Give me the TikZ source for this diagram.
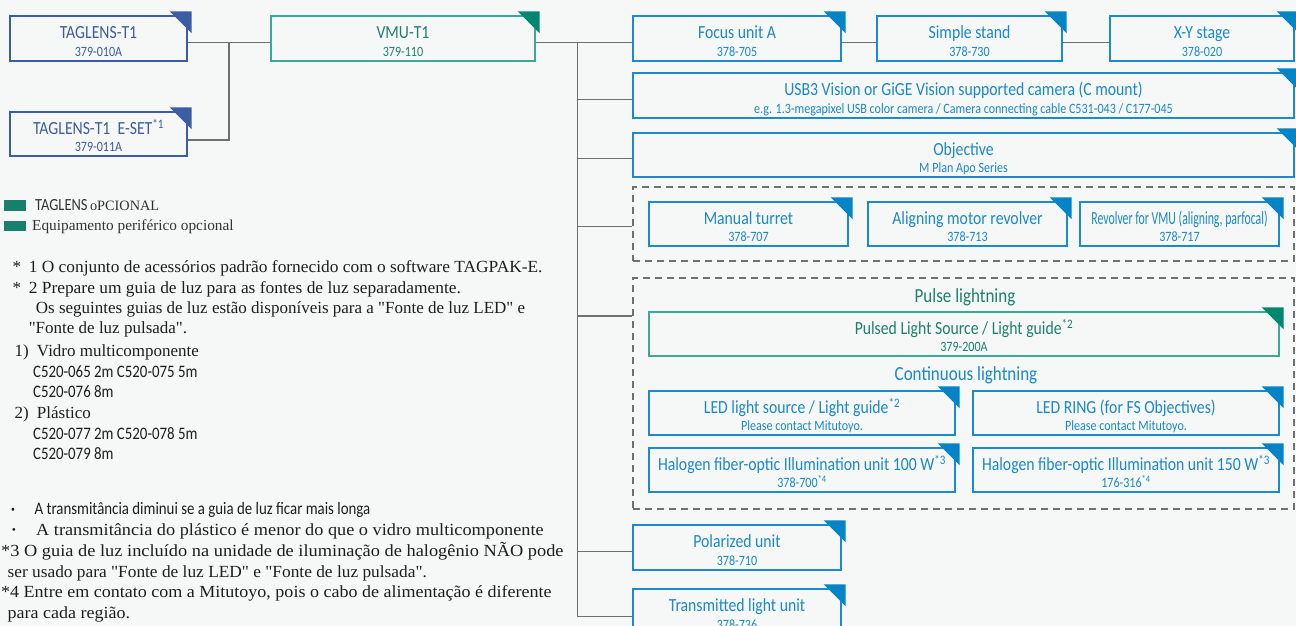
\documentclass[tikz,border=0pt]{standalone}
\usepackage{fontspec}
\setmainfont{Liberation Serif}[Ligatures=TeXOff]
\newfontfamily\cond[FakeStretch=0.85]{Carlito}
\usetikzlibrary{calc}
\definecolor{bgc}{HTML}{F6F8F8}
\definecolor{dblue}{HTML}{3C5DA3}
\definecolor{dbluetxt}{HTML}{3E5C9E}
\definecolor{gtri}{HTML}{00886F}
\definecolor{gborder}{HTML}{3AAA94}
\definecolor{gtxt}{HTML}{1E806B}
\definecolor{bborder}{HTML}{1C8BCC}
\definecolor{btxt}{HTML}{1A88C9}
\definecolor{btri}{HTML}{0284C6}
\definecolor{linec}{HTML}{6F6F6F}
\definecolor{dashc}{HTML}{707070}
\definecolor{legc}{HTML}{17806A}
\definecolor{notec}{HTML}{1E1E1E}
\newcommand\tfont{\cond\fontsize{18.5}{17.3}\selectfont}
\newcommand\sfont{\cond\fontsize{14.2}{17.3}\selectfont}
\newcommand\unittext[2]{\rule{0pt}{21pt}{\tfont #1}\\\rule[-3pt]{0pt}{3pt}#2}
\newcommand\cornertri[2]{\fill[#2] ($(#1.north east)+(4,-4)$) -- ++(-22,0) -- ++(22,22) -- cycle;}
\newcommand\serifnote{\fontsize{17}{20.5}\selectfont}
\newcommand\sansnote{\cond\fontsize{17.5}{20.5}\selectfont}
\newcommand\sx[2]{\scalebox{#1}[1]{#2}}
\tikzset{
  box/.style={draw, line width=1.4pt, inner sep=0pt, align=center, font=\sfont},
  bluebox/.style={box, draw=bborder, text=btxt},
  greenbox/.style={box, draw=gborder, text=gtxt},
  navybox/.style={box, draw=dblue, text=dbluetxt},
  link/.style={draw=linec, line width=1.4pt},
  group/.style={draw=dashc, line width=1.2pt, dash pattern=on 7pt off 5pt, inner sep=0pt},
  note/.style={anchor=base west, inner sep=0pt, text=notec},
  header/.style={inner sep=0pt, font=\cond\fontsize{20}{20}\selectfont},
}
\begin{document}
\begin{tikzpicture}[x=1pt,y=-1pt]
\useasboundingbox (0,0) rectangle (1296,626);
\fill[bgc] (0,0) rectangle (1296,626);

% top-left chain
\node[navybox, minimum width=177pt, minimum height=45pt] (tag1) at (98.5,38.5) {\unittext{TAGLENS-T1}{379-010A}};
\node[navybox, minimum width=177pt, minimum height=44pt] (tag2) at (98.5,134) {\unittext{TAGLENS-T1\ \ E-SET\textsuperscript{*1}}{379-011A}};
\node[greenbox, minimum width=264pt, minimum height=45pt] (vmu) at (403,38.5) {\unittext{VMU-T1}{379-110}};

\node[bluebox, minimum width=208pt, minimum height=45pt] (focus) at (737,38.5) {\unittext{Focus unit A}{378-705}};
\node[bluebox, minimum width=185pt, minimum height=45pt] (stand) at (969.5,38.5) {\unittext{Simple stand}{378-730}};
\node[bluebox, minimum width=184pt, minimum height=45pt] (xy) at (1202,38.5) {\unittext{X-Y stage}{378-020}};
\node[bluebox, minimum width=661pt, minimum height=45pt] (usb) at (963.5,95.5) {\unittext{USB3 Vision or GiGE Vision supported camera (C mount)}{e.g. 1.3-megapixel USB color camera / Camera connecting cable C531-043 / C177-045}};
\node[bluebox, minimum width=661pt, minimum height=44pt] (obj) at (963.5,155) {\unittext{Objective}{M Plan Apo Series}};

% revolver group
\node[group, minimum width=661pt, minimum height=74pt] (grp1) at (963.5,224) {};
\node[bluebox, minimum width=199pt, minimum height=44pt] (manual) at (748.5,224) {\unittext{Manual turret}{378-707}};
\node[bluebox, minimum width=199pt, minimum height=44pt] (align) at (967.5,224) {\unittext{Aligning motor revolver}{378-713}};
\node[bluebox, minimum width=199pt, minimum height=44pt] (revolver) at (1179.5,224) {\unittext{\sx{0.75}{Revolver for VMU (aligning, parfocal)}}{378-717}};

% lighting group
\node[group, minimum width=661pt, minimum height=231pt] (grp2) at (963.5,393.5) {};
\node[header, text=gtxt] (pulselbl) at (965,297) {Pulse lightning};
\node[greenbox, minimum width=630pt, minimum height=44pt] (pulsed) at (964,334) {\unittext{Pulsed Light Source / Light guide\textsuperscript{*2}}{379-200A}};
\node[header, text=btxt] (contlbl) at (966,375) {Continuous lightning};
\node[bluebox, minimum width=306pt, minimum height=44pt] (led) at (802,413) {\unittext{LED light source / Light guide\textsuperscript{*2}}{Please contact Mitutoyo.}};
\node[bluebox, minimum width=306pt, minimum height=44pt] (ring) at (1126,413) {\unittext{LED RING (for FS Objectives)}{Please contact Mitutoyo.}};
\node[bluebox, minimum width=306pt, minimum height=44pt] (hal100) at (802,470) {\unittext{Halogen fiber-optic Illumination unit 100 W\textsuperscript{*3}}{378-700\textsuperscript{*4}}};
\node[bluebox, minimum width=306pt, minimum height=44pt] (hal150) at (1126,470) {\unittext{Halogen fiber-optic Illumination unit 150 W\textsuperscript{*3}}{176-316\textsuperscript{*4}}};

\node[bluebox, minimum width=208pt, minimum height=45pt] (polar) at (737,547.5) {\unittext{Polarized unit}{378-710}};
\node[bluebox, minimum width=208pt, minimum height=45pt] (trans) at (737,611.5) {\unittext{Transmitted light unit}{378-736}};

% corner triangles
\cornertri{tag1}{dblue}
\cornertri{tag2}{dblue}
\cornertri{vmu}{gtri}
\cornertri{focus}{btri}
\cornertri{stand}{btri}
\cornertri{xy}{btri}
\cornertri{usb}{btri}
\cornertri{obj}{btri}
\cornertri{manual}{btri}
\cornertri{align}{btri}
\cornertri{revolver}{btri}
\cornertri{pulsed}{gtri}
\cornertri{led}{btri}
\cornertri{ring}{btri}
\cornertri{hal100}{btri}
\cornertri{hal150}{btri}
\cornertri{polar}{btri}
\cornertri{trans}{btri}

% connectors
\coordinate (j1) at (229,42.3);
\coordinate (t0) at (577.5,42.3);
\draw[link] ($(tag1.east)+(0,3.8)$) -- ($(vmu.west)+(0,3.8)$);
\draw[link] (j1) |- ($(tag2.east)+(0,6)$);
\draw[link] ($(vmu.east)+(0,3.8)$) -- ($(focus.west)+(0,3.8)$);
\draw[link] ($(focus.east)+(0,3.8)$) -- ($(stand.west)+(0,3.8)$);
\draw[link] ($(stand.east)+(0,3.8)$) -- ($(xy.west)+(0,3.8)$);
\draw[link] (t0) |- ($(usb.west)+(0,3.8)$);
\draw[link] (t0) |- ($(obj.west)+(0,3.7)$);
\draw[link] (t0) |- ($(grp1.west)+(0,2.7)$);
\draw[link] (t0) |- ($(grp2.north west)+(0,38.7)$);
\draw[link] (t0) |- ($(polar.west)+(0,4.2)$);
\draw[link] (t0) |- ($(trans.west)+(0,5.2)$);

% legend
\fill[legc] (4,200) rectangle (25.7,210.5);
\fill[legc] (4,220.7) rectangle (25.7,231);
\node[note, text=black!80] (leg1) at (35,210) {{\cond\fontsize{17}{16}\selectfont TAGLENS} {\fontsize{14.3}{14}\selectfont oPCIONAL}};
\node[note, text=black!80] (leg2) at (32,230.5) {\fontsize{15.3}{16}\selectfont Equipamento periférico opcional};

% notes
\node[note, font=\serifnote] (n1) at (12.5,272.7) {\makebox[16.1pt][l]{*}\sx{1.022}{1 O conjunto de acessórios padrão fornecido com o software TAGPAK-E.}};
\node[note, font=\serifnote] (n2) at (12.5,293.1) {\makebox[16.1pt][l]{*}\sx{1.024}{2 Prepare um guia de luz para as fontes de luz separadamente.}};
\node[note, font=\serifnote] (n3) at (35.7,313.7) {Os seguintes guias de luz estão disponíveis para a "Fonte de luz LED" e};
\node[note, font=\serifnote] (n4) at (28.6,333.9) {"Fonte de luz pulsada".};
\node[note, font=\serifnote] (n5) at (14.3,356.1) {\makebox[22.5pt][l]{1)}Vidro multicomponente};
\node[note, font=\sansnote] (n6) at (32.9,377.3) {C520-065 2m C520-075 5m};
\node[note, font=\sansnote] (n7) at (32.9,397.9) {C520-076 8m};
\node[note, font=\serifnote] (n8) at (14.3,418.1) {\makebox[22.5pt][l]{2)}Plástico};
\node[note, font=\sansnote] (n9) at (32.9,439) {C520-077 2m C520-078 5m};
\node[note, font=\sansnote] (n10) at (32.9,459.6) {C520-079 8m};
\node[note, font=\sansnote] (n11) at (11,514.5) {\makebox[23.4pt][l]{\serifnote\textbf{·}}A transmitância diminui se a guia de luz ficar mais longa};
\node[note, font=\serifnote] (n12) at (11,535.5) {\makebox[25pt][l]{\textbf{·}}\sx{1.075}{A transmitância do plástico é menor do que o vidro multicomponente}};
\node[note, font=\serifnote] (n13) at (1,556.5) {\sx{1.08}{*3 O guia de luz incluído na unidade de iluminação de halogênio NÃO pode}};
\node[note, font=\serifnote] (n14) at (7.4,577.2) {\sx{1.02}{ser usado para "Fonte de luz LED" e "Fonte de luz pulsada".}};
\node[note, font=\serifnote] (n15) at (1,597.8) {\sx{1.06}{*4 Entre em contato com a Mitutoyo, pois o cabo de alimentação é diferente}};
\node[note, font=\serifnote] (n16) at (7.4,618.8) {\sx{1.06}{para cada região.}};
\end{tikzpicture}
\end{document}
